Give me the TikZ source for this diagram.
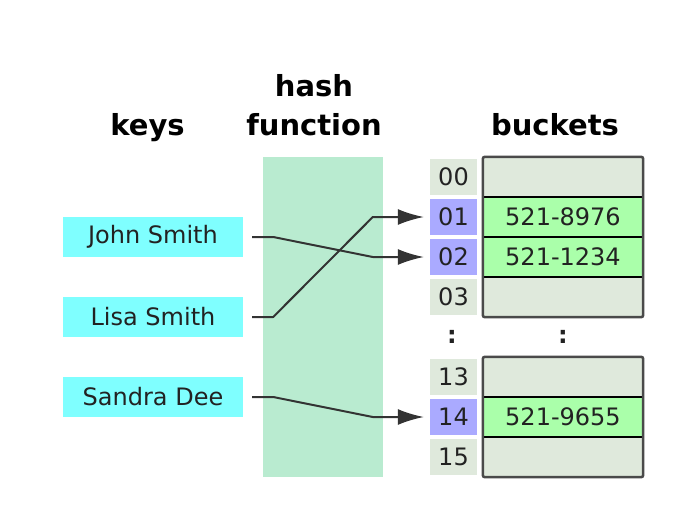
\documentclass[tikz,border=0pt]{standalone}
\usepackage{fontspec}
\setmainfont{DejaVu Sans}
\usetikzlibrary{arrows.meta}
\definecolor{hashc}{HTML}{B9EBD0}
\definecolor{keyc}{HTML}{7FFFFF}
\definecolor{idxc}{HTML}{DFE9DC}
\definecolor{hic}{HTML}{AAAAFF}
\definecolor{fullc}{HTML}{AAFFAA}
\definecolor{inkc}{HTML}{222222}
\definecolor{linec}{HTML}{333333}
\definecolor{framec}{HTML}{4A4A4A}
\begin{document}
\begin{tikzpicture}[x=1pt,y=-1pt,
  lbl/.style={font=\fontsize{24}{28}\selectfont, text=inkc},
  keybox/.style={lbl, fill=keyc, minimum width=180pt, minimum height=40pt, inner sep=0pt},
  idx/.style={lbl, fill=idxc, minimum width=47pt, minimum height=36pt, inner sep=0pt},
  idxhi/.style={idx, fill=hic},
  cell/.style={lbl, fill=idxc, minimum width=160pt, minimum height=40pt, inner sep=0pt},
  cellfull/.style={cell, fill=fullc},
  title/.style={font=\fontsize{29}{39}\selectfont\bfseries, text=black, align=center, inner sep=0pt},
  dots/.style={font=\fontsize{24}{28}\selectfont\bfseries, text=inkc, inner sep=0pt},
  conn/.style={draw=linec, line width=2pt, line join=round, -{Latex[length=26pt,width=16pt]}},
  rowline/.style={draw=black, line width=2pt},
  frame/.style={draw=framec, line width=2.5pt, rounded corners=2pt}]
\useasboundingbox (0,0) rectangle (682,514);
% hash function band
\fill[hashc] (263,157) rectangle (383,477);
% titles
\node[title, anchor=base] (tkeys) at (147.5,135) {keys};
\node[title, anchor=base] (thash) at (314,135) {hash\\function};
\node[title, anchor=base] (tbuck) at (555,135) {buckets};
% keys
\node[keybox] (john) at (153,237) {John Smith};
\node[keybox] (lisa) at (153,317) {Lisa Smith};
\node[keybox] (sandra) at (153,397) {Sandra Dee};
% indices
\node[idx] (i00) at (453.5,177) {00};
\node[idxhi] (i01) at (453.5,217) {01};
\node[idxhi] (i02) at (453.5,257) {02};
\node[idx] (i03) at (453.5,297) {03};
\node[idx] (i13) at (453.5,377) {13};
\node[idxhi] (i14) at (453.5,417) {14};
\node[idx] (i15) at (453.5,457) {15};
% buckets
\node[cell] (b00) at (563,177) {};
\node[cellfull] (b01) at (563,217) {521-8976};
\node[cellfull] (b02) at (563,257) {521-1234};
\node[cell] (b03) at (563,297) {};
\node[cell] (b13) at (563,377) {};
\node[cellfull] (b14) at (563,417) {521-9655};
\node[cell] (b15) at (563,457) {};
\draw[rowline] (b00.south west) -- (b00.south east);
\draw[rowline] (b01.south west) -- (b01.south east);
\draw[rowline] (b02.south west) -- (b02.south east);
\draw[rowline] (b13.south west) -- (b13.south east);
\draw[rowline] (b14.south west) -- (b14.south east);
\draw[frame] (b00.north west) rectangle (b03.south east);
\draw[frame] (b13.north west) rectangle (b15.south east);
% ellipses
\node[dots] (d1) at (452,337) {:};
\node[dots] (d2) at (563,337) {:};
% connectors
\draw[conn] ([xshift=9pt]john.east) -- ++(21,0) -- ([xshift=-57pt]i02.west) -- ([xshift=-6pt]i02.west);
\draw[conn] ([xshift=9pt]lisa.east) -- ++(21,0) -- ([xshift=-57pt]i01.west) -- ([xshift=-6pt]i01.west);
\draw[conn] ([xshift=9pt]sandra.east) -- ++(21,0) -- ([xshift=-57pt]i14.west) -- ([xshift=-6pt]i14.west);
\end{tikzpicture}
\end{document}
